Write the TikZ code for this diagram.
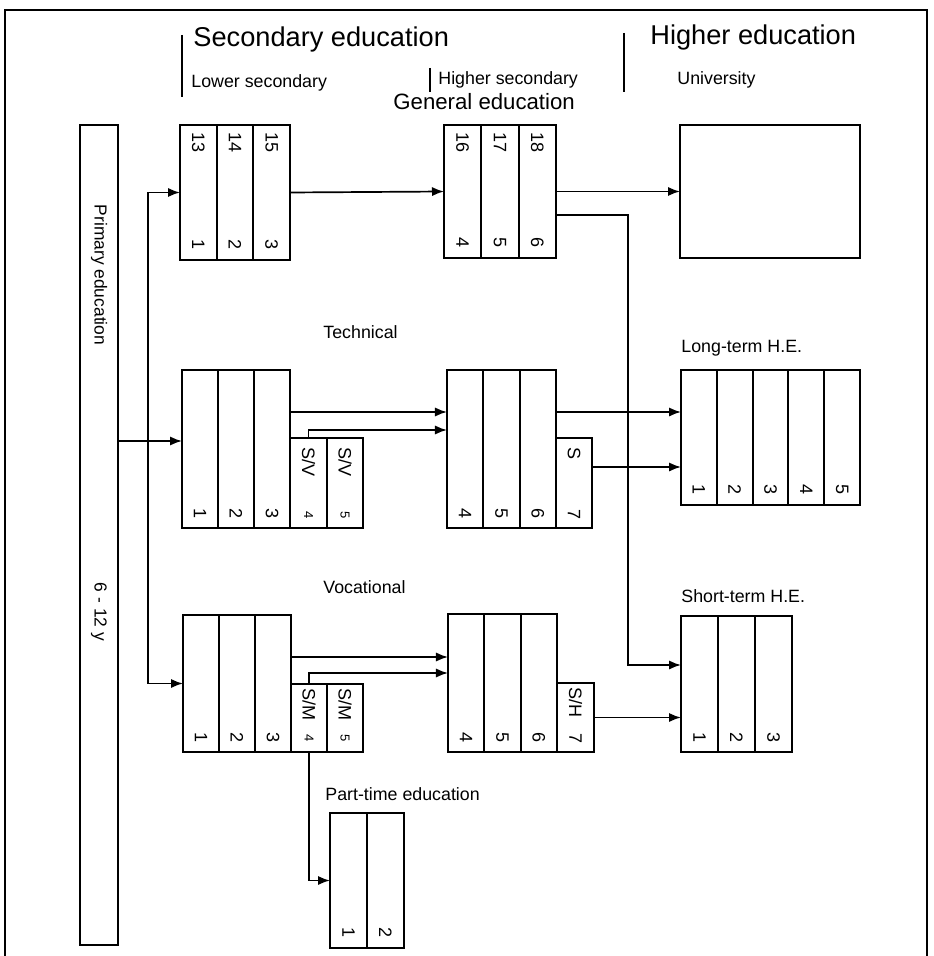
\documentclass[tikz,border=0pt]{standalone}
\usepackage{fontspec}
\setmainfont{Liberation Sans}
\usetikzlibrary{arrows.meta}

\tikzset{
  col/.style={draw, line width=1.05pt, inner sep=0pt, outer sep=0pt},
  num/.style={rotate=-90, font=\fontsize{9}{9}\selectfont, inner sep=0pt},
  subnum/.style={rotate=-90, font=\fontsize{6.5}{6.5}\selectfont, inner sep=0pt},
  head/.style={font=\fontsize{13.6}{14}\selectfont, anchor=base west, inner sep=0pt},
  lbl/.style={font=\fontsize{8.9}{9}\selectfont, anchor=base west, inner sep=0pt},
  conn/.style={line width=0.85pt, -{Latex[length=6pt,width=4.6pt]}},
  tick/.style={line width=0.7pt}
}

\begin{document}
\begin{tikzpicture}[x=0.5pt,y=-0.5pt]
\useasboundingbox (0,0) rectangle (933,956);
\draw[line width=1pt] (5,956) -- (5,10) -- (927,10) -- (927,956);

% headings
\node[head] (sec) at (193,47) {Secondary education};
\node[head] (high) at (650,45) {Higher education};
\draw[tick] (182,35) -- (182,97);
\draw[tick] (624,33) -- (624,92);
\draw[tick] (430,68) -- (430,92);
\node[lbl] (lsec) at (191,88) {Lower secondary};
\node[lbl] (hsec) at (438,85) {Higher secondary};
\node[lbl] (univ) at (677,85) {University};
\node[head, font=\fontsize{11.1}{12}\selectfont] (gen) at (393,110) {General education};
\node[lbl] (tech) at (323,339) {Technical};
\node[lbl] (voc) at (323,593) {Vocational};
\node[lbl] (long) at (681,352) {Long-term H.E.};
\node[lbl] (short) at (681,602) {Short-term H.E.};
\node[lbl] (part) at (325,800) {Part-time education};

% primary
\node[col, minimum width=19pt, minimum height=410pt] (prim) at (99,535) {};
\node[num, font=\fontsize{8.7}{9}\selectfont] at (99,275) {Primary education};
\node[num, font=\fontsize{8.7}{9}\selectfont] at (99,612) {6 - 12 y};

% general education
\foreach \i/\t/\b in {1/13/1,2/14/2,3/15/3}{
  \node[col, minimum width=18.33pt, minimum height=67.5pt] (lg\i) at ({180+36.67*\i-18.33},192.5) {};
  \path (lg\i.north) ++(0,18) node[num] {\t};
  \path (lg\i.south) ++(0,-15) node[num] {\b};
}
\foreach \i/\t/\b in {1/16/4,2/17/5,3/18/6}{
  \node[col, minimum width=18.67pt, minimum height=66.5pt] (hg\i) at ({444+37.33*\i-18.67},191.5) {};
  \path (hg\i.north) ++(0,18) node[num] {\t};
  \path (hg\i.south) ++(0,-15) node[num] {\b};
}
\node[col, minimum width=90pt, minimum height=66.5pt] (uni) at (770,191.5) {};

% technical
\foreach \i in {1,2,3}{
  \node[col, minimum width=18pt, minimum height=79pt] (lt\i) at ({182+36*\i-18},449) {};
  \path (lt\i.south) ++(0,-14) node[num] {\i};
}
\node[col, minimum width=18.5pt, minimum height=45pt] (lt4) at (308.5,483) {};
\node[col, minimum width=18pt, minimum height=45pt] (lt5) at (345,483) {};
\foreach \i/\b in {4/4,5/5}{
  \path (lt\i.north) ++(0,24) node[num] {S/V};
  \path (lt\i.south) ++(0,-13) node[subnum] {\b};
}
\foreach \i/\b in {1/4,2/5,3/6}{
  \node[col, minimum width=18.17pt, minimum height=79pt] (ht\i) at ({447+36.33*\i-18.17},449) {};
  \path (ht\i.south) ++(0,-14) node[num] {\b};
}
\node[col, minimum width=18pt, minimum height=45pt] (ht4) at (574,483) {};
\path (ht4.north) ++(0,16) node[num] {S};
\path (ht4.south) ++(0,-13) node[num] {7};
\foreach \i in {1,...,5}{
  \node[col, minimum width=17.9pt, minimum height=67.5pt] (lh\i) at ({681+35.8*\i-17.9},437.5) {};
  \path (lh\i.south) ++(0,-15) node[num] {\i};
}

% vocational
\foreach \i in {1,2,3}{
  \node[col, minimum width=18pt, minimum height=68.5pt] (lv\i) at ({183+36*\i-18},683.5) {};
  \path (lv\i.south) ++(0,-15) node[num] {\i};
}
\node[col, minimum width=18pt, minimum height=34pt] (lv4) at (309,718) {};
\node[col, minimum width=18pt, minimum height=34pt] (lv5) at (345,718) {};
\foreach \i/\b in {4/4,5/5}{
  \path (lv\i.north) ++(0,20) node[num] {S/M};
  \path (lv\i.south) ++(0,-14) node[subnum] {\b};
}
\foreach \i/\b in {1/4,2/5,3/6}{
  \node[col, minimum width=18.17pt, minimum height=69pt] (hv\i) at ({448+36.33*\i-18.17},683) {};
  \path (hv\i.south) ++(0,-15) node[num] {\b};
}
\node[col, minimum width=18.5pt, minimum height=34.5pt] (hv4) at (575.5,717.5) {};
\path (hv4.north) ++(0,19) node[num] {S/H};
\path (hv4.south) ++(0,-14) node[num] {7};
\foreach \i in {1,2,3}{
  \node[col, minimum width=18.5pt, minimum height=68pt] (sh\i) at ({681+37*\i-18.5},684) {};
  \path (sh\i.south) ++(0,-15) node[num] {\i};
}
\foreach \i in {1,2}{
  \node[col, minimum width=18.5pt, minimum height=67.5pt] (pt\i) at ({330+37*\i-18.5},880.5) {};
  \path (pt\i.south) ++(0,-16) node[num] {\i};
}

% connectors
\coordinate (pbr) at ([xshift=15pt]prim.east);
\coordinate (tin) at ([yshift=4pt]lt1.west);
\draw[conn] (prim.east |- tin) -- (tin);
\draw[conn, {Latex[length=6pt,width=4.6pt]}-{Latex[length=6pt,width=4.6pt]}] (lg1.west) -| (pbr) |- (lv1.west);
\draw[conn] (lg3.east) -- (hg1.west);
\draw[conn] (hg3.east) -- (uni.west);
\coordinate (gdrop) at ([xshift=36pt]hg3.east);
\coordinate (shin) at ([yshift=9.5pt]sh1.west);
\draw[conn] ([yshift=-11.75pt]hg3.east) -| (gdrop |- shin) -- (shin);
\draw[conn] ([yshift=18.5pt]lt3.east) -- ([yshift=18.5pt]ht1.west);
\draw[conn] (lt4.north) |- ([yshift=9.5pt]ht1.west);
\draw[conn] ([yshift=18.5pt]ht3.east) -- ([yshift=12.75pt]lh1.west);
\draw[conn] ([yshift=8pt]ht4.east) -- ([yshift=-14.75pt]lh1.west);
\draw[conn] ([yshift=13.25pt]lv3.east) -- ([yshift=13pt]hv1.west);
\draw[conn] (lv4.north) |- ([yshift=5pt]hv1.west);
\draw[conn] (hv4.east) -- (hv4.east -| sh1.west);
\draw[conn] (lv4.south) |- (pt1.west);
\end{tikzpicture}
\end{document}
